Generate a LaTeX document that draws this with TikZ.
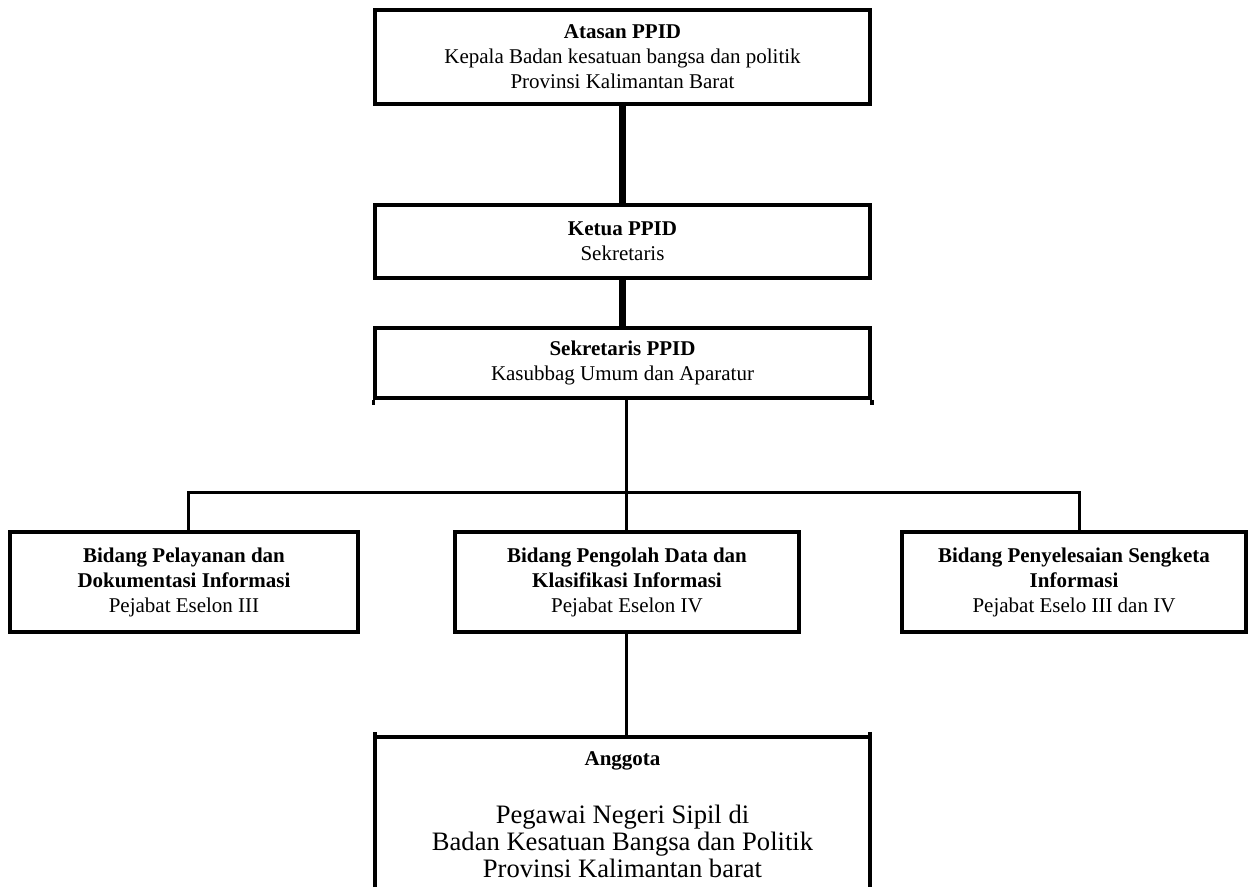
\documentclass[tikz,border=0pt]{standalone}
\usepackage{fontspec}
\setmainfont{Liberation Serif}
\begin{document}
\begin{tikzpicture}[x=1pt,y=-1pt,
  boxline/.style={line width=3.5pt},
  box/.style={draw, boxline, rectangle, align=center, inner sep=0pt, font=\fontsize{21}{25}\selectfont},
  plainbox/.style={rectangle, align=center, inner sep=0pt, font=\fontsize{21}{25}\selectfont},
  heavylink/.style={line width=7pt},
  link/.style={line width=3pt}]
\useasboundingbox (0,0) rectangle (1249,887);
% upper chain
\node[box, minimum width=495, minimum height=94] (atasan) at (622.5,57)
  {\textbf{Atasan PPID}\\Kepala Badan kesatuan bangsa dan politik\\Provinsi Kalimantan Barat};
\node[box, minimum width=495, minimum height=73] (ketua) at (622.5,241.5)
  {\textbf{Ketua PPID}\\Sekretaris};
\node[box, minimum width=495, minimum height=70] (sek) at (622.5,363)
  {\textbf{Sekretaris PPID}\\Kasubbag Umum dan Aparatur};
\draw[boxline] (sek.south west) -- ++(0,5);
\draw[boxline] (sek.south east) -- ++(0,5);
% bidang boxes
\node[box, minimum width=348, minimum height=100] (bid1) at (184,582)
  {\textbf{Bidang Pelayanan dan}\\\textbf{Dokumentasi Informasi}\\Pejabat Eselon III};
\node[box, minimum width=344, minimum height=100] (bid2) at (627,582)
  {\textbf{Bidang Pengolah Data dan}\\\textbf{Klasifikasi Informasi}\\Pejabat Eselon IV};
\node[box, minimum width=344, minimum height=100] (bid3) at (1074,582)
  {\textbf{Bidang Penyelesaian Sengketa}\\\textbf{Informasi}\\Pejabat Eselo III dan IV};
% anggota
\node[plainbox, minimum width=495, minimum height=150] (anggota) at (622.5,812) {};
\draw[boxline] (anggota.south west) -- ([yshift=5pt]anggota.north west);
\draw[boxline] (anggota.north west) -- (anggota.north east);
\draw[boxline] ([yshift=5pt]anggota.north east) -- (anggota.south east);
\node[plainbox] (anggotatitle) at (622.5,761) {\textbf{Anggota}};
\node[plainbox, font=\fontsize{26.6}{27}\selectfont] (anggotabody) at (622.5,841)
  {Pegawai Negeri Sipil di\\Badan Kesatuan Bangsa dan Politik\\Provinsi Kalimantan barat};
% connectors
\draw[heavylink] (atasan) -- (ketua);
\draw[heavylink] (ketua) -- (sek);
\coordinate (bus) at (626,492);
\draw[link] (sek.south -| bus) -- (bus);
\draw[link] ([xshift=4pt]bid1.north) |- (bus) -| ([xshift=5pt]bid3.north);
\draw[link] (bus) -- (bid2.north -| bus);
\draw[link] (bid2.south -| bus) -- (anggota.north -| bus);
\end{tikzpicture}
\end{document}
